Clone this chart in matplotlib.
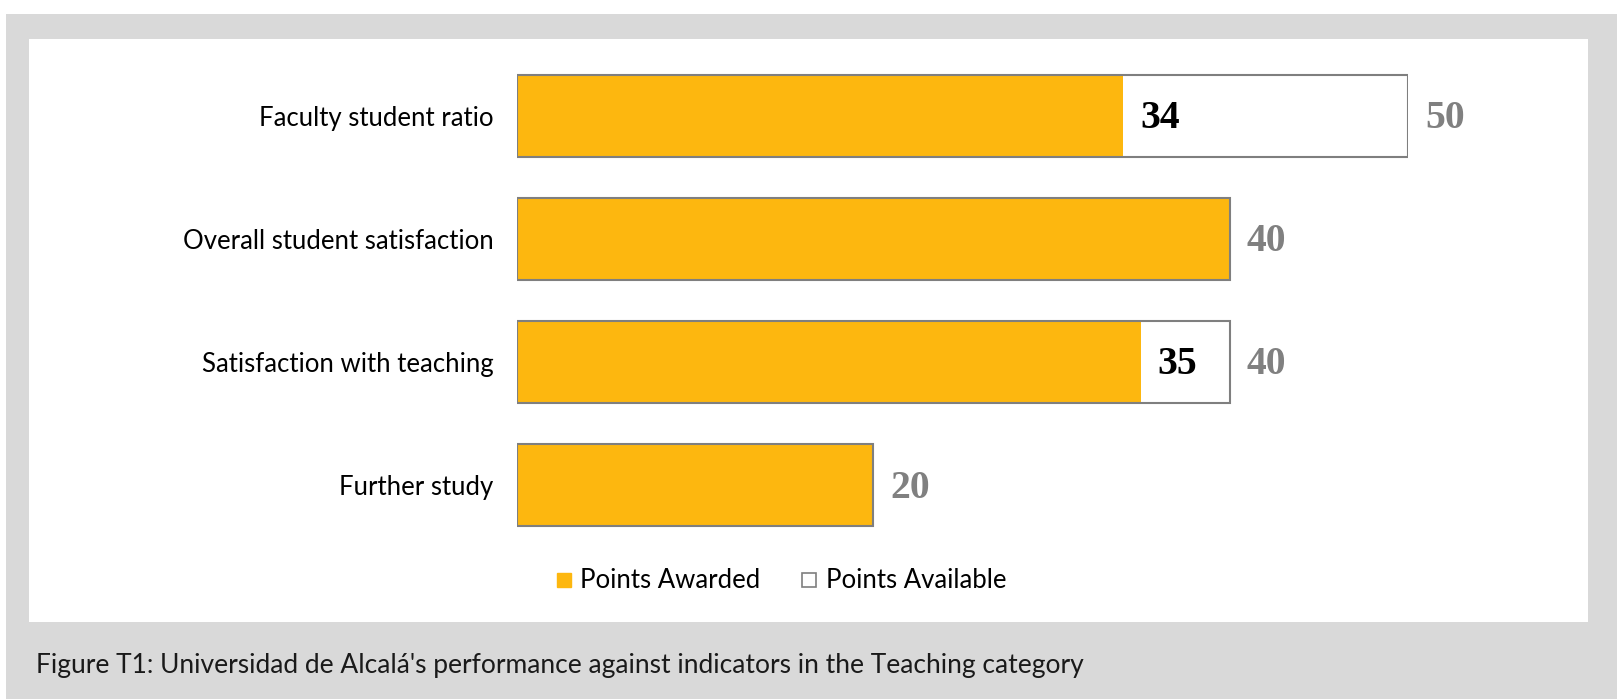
import matplotlib.pyplot as plt
from matplotlib.patches import Rectangle
from matplotlib.lines import Line2D

categories = ["Faculty student ratio", "Overall student satisfaction",
              "Satisfaction with teaching", "Further study"]
awarded = [34, 40, 35, 20]
available = [50, 40, 40, 20]

ORANGE = '#FDB70F'
EDGE = '#7F7F7F'
W, H = 1617, 699

fig = plt.figure(figsize=(W / 100, H / 100), dpi=100, facecolor='white')

# gray frame and white inner panel
fig.patches.append(Rectangle((6 / W, 0), 1 - 6 / W, 1 - 14 / H, transform=fig.transFigure,
                             facecolor='#D9D9D9', edgecolor='none', zorder=-2))
fig.patches.append(Rectangle((29 / W, 1 - 622 / H), (1588 - 29) / W, (622 - 39) / H,
                             transform=fig.transFigure, facecolor='white',
                             edgecolor='none', zorder=-1))

ax = fig.add_axes([517 / W, 1 - 547 / H, (1408 - 517) / W, (547 - 54) / H])
ax.set_facecolor('none')

y = list(range(len(categories)))
h = 0.667
ax.barh(y, available, height=h, color='white', edgecolor='none', zorder=1)
ax.barh(y, awarded, height=h, color=ORANGE, edgecolor='none', zorder=2)
ax.barh(y, available, height=h, fill=False, edgecolor=EDGE, linewidth=1.5, zorder=3)

ax.set_xlim(0, 50)
ax.set_ylim(len(categories) - 0.5, -0.5)
ax.set_yticks(y)
ax.set_yticklabels(categories, fontsize=18.5, family='Lato')
ax.tick_params(axis='y', length=0, pad=17)
ax.set_xticks([])
for s in ax.spines.values():
    s.set_visible(False)

pad = 17 * 50 / (1408 - 517)
for i in y:
    if awarded[i] < available[i]:
        ax.text(awarded[i] + pad, i + 0.10, str(awarded[i]), va='baseline', ha='left',
                fontsize=28.5, fontweight='bold', family='Liberation Serif', color='black')
    ax.text(available[i] + pad, i + 0.10, str(available[i]), va='baseline', ha='left',
            fontsize=28.5, fontweight='bold', family='Liberation Serif', color='#808080',
            clip_on=False)

handles = [
    Line2D([], [], marker='s', linestyle='none', markersize=10, markerfacecolor=ORANGE,
           markeredgecolor=ORANGE, label='Points Awarded'),
    Line2D([], [], marker='s', linestyle='none', markersize=10, markerfacecolor='white',
           markeredgecolor=EDGE, markeredgewidth=1.2, label='Points Available'),
]
fig.legend(handles=handles, loc='center', bbox_to_anchor=(780 / W, 1 - 581 / H), ncol=2,
           frameon=False, prop={'family': 'Lato', 'size': 18.5}, handlelength=0.8,
           handletextpad=0.25, columnspacing=1.5)

fig.text(36 / W, 1 - 665 / H,
         "Figure T1: Universidad de Alcalá's performance against indicators in the Teaching category",
         ha='left', va='center', fontsize=19, family='Lato', color='#1a1a1a')

fig.savefig('out.png', dpi=100, facecolor=fig.get_facecolor())
